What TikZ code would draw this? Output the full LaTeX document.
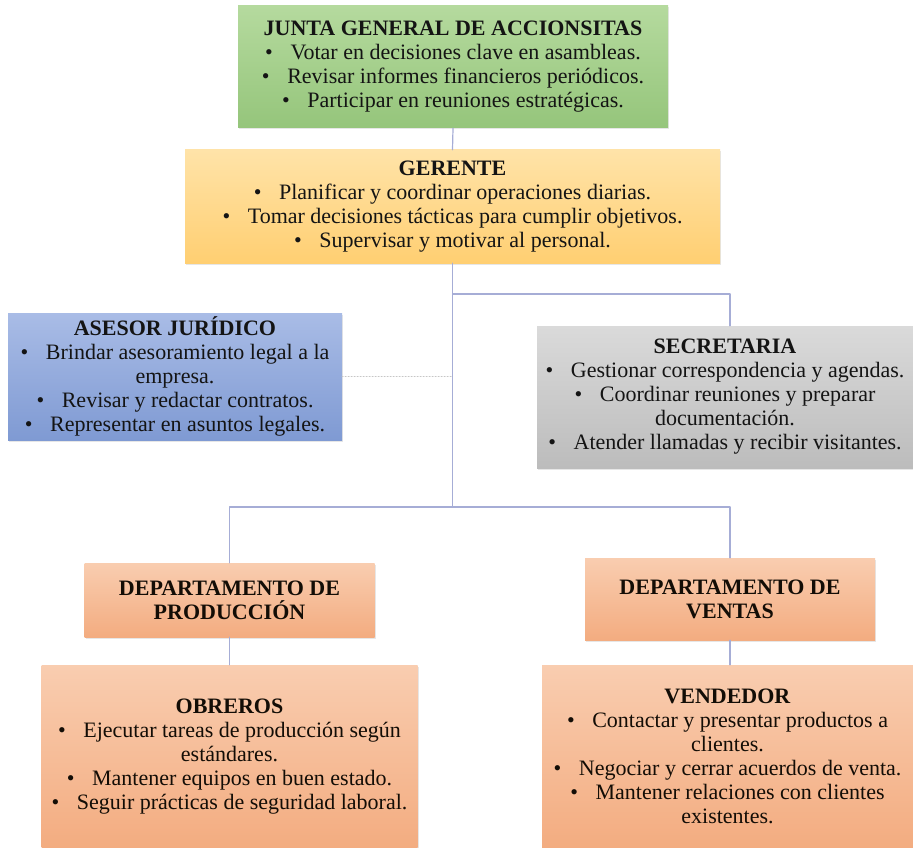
\documentclass[tikz,border=0pt]{standalone}
\usepackage{fontspec}
\setmainfont{Liberation Serif}
\usetikzlibrary{shadows}
\definecolor{verdeA}{HTML}{B5DA9E}
\definecolor{verdeB}{HTML}{95C57B}
\definecolor{oroA}{HTML}{FFE3A8}
\definecolor{oroB}{HTML}{FFCF72}
\definecolor{azulA}{HTML}{A9BCE6}
\definecolor{azulB}{HTML}{7F9AD3}
\definecolor{grisA}{HTML}{DADADA}
\definecolor{grisB}{HTML}{BCBCBC}
\definecolor{naranjaA}{HTML}{F9CDB0}
\definecolor{naranjaB}{HTML}{F3AC80}
\definecolor{enlace}{HTML}{A6ADD6}
\newcommand{\bul}{\textbullet\hspace{0.8em}}
\begin{document}
\begin{tikzpicture}[x=1pt, y=-1pt, font=\fontsize{22}{24}\selectfont, line join=round, line cap=round]
	\tikzset{box/.style={align=center, inner sep=2pt, text=black!92,
			drop shadow={opacity=0.2, shadow xshift=1pt, shadow yshift=-1.5pt}},
		link/.style={draw=enlace, line width=1.2pt},
		verde/.style={box, top color=verdeA, bottom color=verdeB},
		oro/.style={box, top color=oroA, bottom color=oroB},
		azul/.style={box, top color=azulA, bottom color=azulB},
		gris/.style={box, top color=grisA, bottom color=grisB},
		naranja/.style={box, top color=naranjaA, bottom color=naranjaB, text=black!90!brown}}
	\useasboundingbox (0,0) rectangle (913,848);
	% cajas
	\node[verde, minimum width=430pt, minimum height=122pt] (junta) at (453,67)
		{\textbf{JUNTA GENERAL DE ACCIONSITAS}\\ \bul Votar en decisiones clave en asambleas.\\
		 \bul Revisar informes financieros periódicos.\\ \bul Participar en reuniones estratégicas.};
	\node[oro, minimum width=535pt, minimum height=113pt] (gerente) at (452.5,206.5)
		{\textbf{GERENTE}\\ \bul Planificar y coordinar operaciones diarias.\\
		 \bul Tomar decisiones tácticas para cumplir objetivos.\\ \bul Supervisar y motivar al personal.};
	\node[azul, minimum width=334pt, minimum height=127pt] (asesor) at (175,376.5)
		{\textbf{ASESOR JURÍDICO}\\ \bul Brindar asesoramiento legal a la\\ empresa.\\
		 \bul Revisar y redactar contratos.\\ \bul Representar en asuntos legales.};
	\node[gris, minimum width=376pt, minimum height=142pt] (secretaria) at (725,397)
		{\textbf{SECRETARIA}\\ \bul Gestionar correspondencia y agendas.\\ \bul Coordinar reuniones y preparar\\
		 documentación.\\ \bul Atender llamadas y recibir visitantes.};
	\node[naranja, minimum width=290pt, minimum height=74pt] (produccion) at (229.5,600)
		{\textbf{DEPARTAMENTO DE}\\ \textbf{PRODUCCIÓN}};
	\node[naranja, minimum width=290pt, minimum height=82pt] (ventas) at (730,599)
		{\textbf{DEPARTAMENTO DE}\\ \textbf{VENTAS}};
	\node[naranja, minimum width=376pt, minimum height=183pt] (obreros) at (229.5,756.5)
		{\textbf{OBREROS}\\ \bul Ejecutar tareas de producción según\\ estándares.\\
		 \bul Mantener equipos en buen estado.\\ \bul Seguir prácticas de seguridad laboral.};
	\node[naranja, minimum width=371pt, minimum height=183pt] (vendedor) at (727.5,756.5)
		{\textbf{VENDEDOR}\\ \bul Contactar y presentar productos a\\ clientes.\\
		 \bul Negociar y cerrar acuerdos de venta.\\ \bul Mantener relaciones con clientes\\ existentes.};
	% puntos de enlace
	\coordinate (ramaSec) at (452.5,294);
	\coordinate (ramaAse) at (452.5,376.5);
	\coordinate (ramaDep) at (452.5,507);
	% conectores
	\draw[link] (junta.south) -- (gerente.north);
	\draw[link] (gerente.south) -- (ramaDep);
	\draw[link] (ramaSec) -| (ventas.north |- secretaria.north);
	\draw[draw=gray!45, line width=1pt, dotted] (asesor.east) -- (ramaAse);
	\draw[link] (produccion.north) |- (ramaDep) -| (ventas.north);
	\draw[link] (produccion.south) -- (obreros.north);
	\draw[link] (ventas.south) -- (ventas.south |- vendedor.north);
\end{tikzpicture}
\end{document}
